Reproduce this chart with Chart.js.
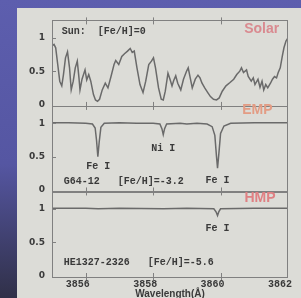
<!DOCTYPE html>
<html>
<head>
<meta charset="utf-8">
<script src="https://cdn.jsdelivr.net/npm/chart.js@4.4.1/dist/chart.umd.min.js"></script>
<style>
  html, body { margin: 0; padding: 0; width: 301px; height: 298px; overflow: hidden; }
  body { background: linear-gradient(180deg, #5d5eae 0%, #5556a2 55%, #303048 100%); }
  #slide { position: absolute; left: 17px; top: 8px; width: 284px; height: 290px; background: #dcdcd7; }
</style>
</head>
<body>
<div id="slide"><canvas id="spectra" width="284" height="290"></canvas></div>
<script>
// wavelength (Angstrom) / normalised flux
const solarWave = [
  3855.00, 3855.06, 3855.11, 3855.17, 3855.23, 3855.29, 3855.34, 3855.40, 3855.46, 3855.52,
  3855.57, 3855.63, 3855.69, 3855.75, 3855.80, 3855.83, 3855.89, 3855.98, 3856.03, 3856.09,
  3856.15, 3856.23, 3856.29, 3856.35, 3856.41, 3856.49, 3856.58, 3856.66, 3856.75, 3856.84,
  3856.89, 3856.98, 3857.07, 3857.15, 3857.24, 3857.32, 3857.38, 3857.44, 3857.52, 3857.61,
  3857.70, 3857.78, 3857.87, 3857.95, 3858.01, 3858.07, 3858.16, 3858.24, 3858.30, 3858.36,
  3858.44, 3858.50, 3858.56, 3858.61, 3858.67, 3858.73, 3858.82, 3858.90, 3858.99, 3859.04,
  3859.10, 3859.16, 3859.25, 3859.33, 3859.39, 3859.45, 3859.53, 3859.62, 3859.70, 3859.79,
  3859.88, 3859.96, 3860.05, 3860.16, 3860.28, 3860.39, 3860.48, 3860.57, 3860.62, 3860.68,
  3860.77, 3860.82, 3860.91, 3860.97, 3861.02, 3861.11, 3861.17, 3861.23, 3861.28, 3861.34,
  3861.40, 3861.48, 3861.54, 3861.60, 3861.66, 3861.71, 3861.77, 3861.83, 3861.88, 3861.94,
  3862.00
];
const solarFlux = [
  0.88, 0.90, 0.85, 0.60, 0.35, 0.28, 0.45, 0.70, 0.79, 0.55,
  0.22, 0.35, 0.55, 0.65, 0.40, 0.22, 0.38, 0.52, 0.37, 0.45,
  0.35, 0.15, 0.07, 0.05, 0.08, 0.22, 0.32, 0.25, 0.42, 0.60,
  0.66, 0.60, 0.72, 0.76, 0.80, 0.84, 0.78, 0.80, 0.55, 0.30,
  0.18, 0.35, 0.60, 0.65, 0.70, 0.55, 0.25, 0.08, 0.07, 0.20,
  0.47, 0.38, 0.28, 0.36, 0.43, 0.32, 0.22, 0.38, 0.50, 0.55,
  0.40, 0.25, 0.38, 0.44, 0.40, 0.32, 0.25, 0.18, 0.12, 0.08,
  0.07, 0.10, 0.20, 0.28, 0.33, 0.38, 0.45, 0.50, 0.55, 0.48,
  0.52, 0.42, 0.35, 0.40, 0.30, 0.38, 0.26, 0.35, 0.22, 0.30,
  0.25, 0.32, 0.38, 0.42, 0.40, 0.48, 0.55, 0.72, 0.85, 0.95,
  1.00
];

const empWave = [
  3855.00, 3855.50, 3856.00, 3856.20, 3856.28, 3856.32, 3856.36, 3856.40, 3856.45, 3856.55,
  3857.00, 3857.50, 3858.00, 3858.20, 3858.26, 3858.30, 3858.34, 3858.40, 3858.80, 3859.00,
  3859.30, 3859.60, 3859.75, 3859.83, 3859.88, 3859.91, 3859.95, 3860.00, 3860.10, 3860.30,
  3861.00, 3862.00
];
const empFlux = [
  1.01, 1.01, 1.00, 0.99, 0.93, 0.75, 0.50, 0.72, 0.94, 1.00,
  1.01, 1.00, 1.00, 0.99, 0.92, 0.83, 0.92, 0.99, 1.00, 0.99,
  1.00, 0.99, 0.95, 0.82, 0.50, 0.33, 0.55, 0.85, 0.96, 1.00,
  1.01, 1.01
];

const hmpWave = [3855.00, 3856.00, 3856.37, 3857.00, 3858.30, 3859.00, 3859.80, 3859.87, 3859.91, 3859.95, 3860.00, 3861.00, 3862.00];
const hmpFlux = [1.01, 1.01, 1.00, 1.01, 1.00, 1.01, 1.00, 0.95, 0.90, 0.96, 1.00, 1.01, 1.01];

const xTicks = [3856, 3858, 3860, 3862];
const yTicks = [0, 0.5, 1];
const xTitle = 'Wavelength(Å)';

// text written inside the panels, placed in data units of each panel
const notes = [
  { axis: 'ySolar', x: 3855.29, y: 1.10, text: 'Sun:  [Fe/H]=0', align: 'left' },
  { axis: 'ySolar', x: 3861.74, y: 1.13, text: 'Solar', align: 'right', name: '#d98a90' },
  { axis: 'yEmp', x: 3861.54, y: 1.20, text: 'EMP', align: 'right', name: '#e39c84' },
  { axis: 'yEmp', x: 3856.37, y: 0.36, text: 'Fe I', align: 'center' },
  { axis: 'yEmp', x: 3858.30, y: 0.63, text: 'Ni I', align: 'center' },
  { axis: 'yEmp', x: 3859.91, y: 0.15, text: 'Fe I', align: 'center' },
  { axis: 'yEmp', x: 3855.35, y: 0.13, text: 'G64-12   [Fe/H]=-3.2', align: 'left' },
  { axis: 'yHmp', x: 3861.63, y: 1.16, text: 'HMP', align: 'right', name: '#df8083' },
  { axis: 'yHmp', x: 3859.91, y: 0.70, text: 'Fe I', align: 'center' },
  { axis: 'yHmp', x: 3855.35, y: 0.19, text: 'HE1327-2326   [Fe/H]=-5.6', align: 'left' }
];

const pairs = (xs, ys) => xs.map((x, i) => ({ x: x, y: ys[i] }));

const lineColor = '#6a6a6a';
const frameColor = '#808080';
const inkColor = '#3a3a3a';

function spectrum(data, axis) {
  return {
    data: data,
    yAxisID: axis,
    borderColor: lineColor,
    borderWidth: 1.5,
    pointRadius: 0,
    tension: 0
  };
}

function panelAxis() {
  return {
    type: 'linear',
    position: 'left',
    stack: 'spectra',
    stackWeight: 1,
    min: -0.02,
    max: 1.26,
    afterBuildTicks: (s) => { s.ticks = yTicks.map((v) => ({ value: v })); },
    afterFit: (s) => { s.width = 35; },
    grid: { display: false, drawTicks: false },
    border: { display: false },
    ticks: {
      color: inkColor,
      padding: 7,
      callback: (v) => String(v),
      font: { family: 'DejaVu Sans', size: 9, weight: 'bold' }
    }
  };
}

const framePlugin = {
  id: 'frames',
  afterDatasetsDraw(chart) {
    const ctx = chart.ctx;
    const area = chart.chartArea;
    const x = chart.scales.x;
    ctx.save();
    ctx.strokeStyle = frameColor;
    ctx.lineWidth = 1;
    ['ySolar', 'yEmp', 'yHmp'].forEach((id) => {
      const s = chart.scales[id];
      ctx.strokeRect(Math.round(area.left) + 0.5, Math.round(s.top) + 0.5,
        Math.round(area.right - area.left) - 1, Math.round(s.bottom - s.top));
      ctx.beginPath();
      xTicks.slice(0, -1).forEach((v) => {
        const px = Math.round(x.getPixelForValue(v)) + 0.5;
        ctx.moveTo(px, s.top - 3); ctx.lineTo(px, s.top + 4);
        ctx.moveTo(px, s.bottom - 4); ctx.lineTo(px, s.bottom + 3);
      });
      yTicks.slice(1).forEach((v) => {
        const py = Math.round(s.getPixelForValue(v)) + 0.5;
        ctx.moveTo(area.left, py); ctx.lineTo(area.left + 4, py);
      });
      ctx.stroke();
    });
    ctx.textBaseline = 'middle';
    notes.forEach((n) => {
      const s = chart.scales[n.axis];
      ctx.textAlign = n.align;
      if (n.name) {
        ctx.fillStyle = n.name;
        ctx.font = 'bold 14px "Liberation Sans"';
      } else {
        ctx.fillStyle = inkColor;
        ctx.font = 'bold 10px "Liberation Mono"';
      }
      ctx.fillText(n.text, x.getPixelForValue(n.x), s.getPixelForValue(n.y));
    });
    // axis title sits below the tick labels and runs off the bottom edge
    ctx.textAlign = 'center';
    ctx.fillStyle = inkColor;
    ctx.font = 'bold 10px "Liberation Sans"';
    ctx.fillText(xTitle, (area.left + area.right) / 2, area.bottom + 17);
    ctx.restore();
  }
};

new Chart(document.getElementById('spectra'), {
  type: 'line',
  data: {
    datasets: [
      spectrum(pairs(hmpWave, hmpFlux), 'yHmp'),
      spectrum(pairs(empWave, empFlux), 'yEmp'),
      spectrum(pairs(solarWave, solarFlux), 'ySolar')
    ]
  },
  options: {
    responsive: false,
    animation: false,
    events: [],
    layout: { padding: { top: 7, right: 5, left: 0, bottom: 0 } },
    plugins: { legend: { display: false }, tooltip: { enabled: false } },
    scales: {
      x: {
        type: 'linear',
        min: 3855,
        max: 3862,
        afterBuildTicks: (s) => { s.ticks = xTicks.map((v) => ({ value: v })); },
        afterFit: (s) => { s.height = 21; },
        grid: { display: false, drawTicks: false },
        border: { display: false },
        ticks: {
          color: inkColor,
          padding: 1,
          maxRotation: 0,
          labelOffset: -8,
          callback: (v) => String(v),
          font: { family: 'Liberation Mono', size: 10, weight: 'bold' }
        }
      },
      yHmp: panelAxis(),
      yEmp: panelAxis(),
      ySolar: panelAxis()
    }
  },
  plugins: [framePlugin]
});
</script>
</body>
</html>
